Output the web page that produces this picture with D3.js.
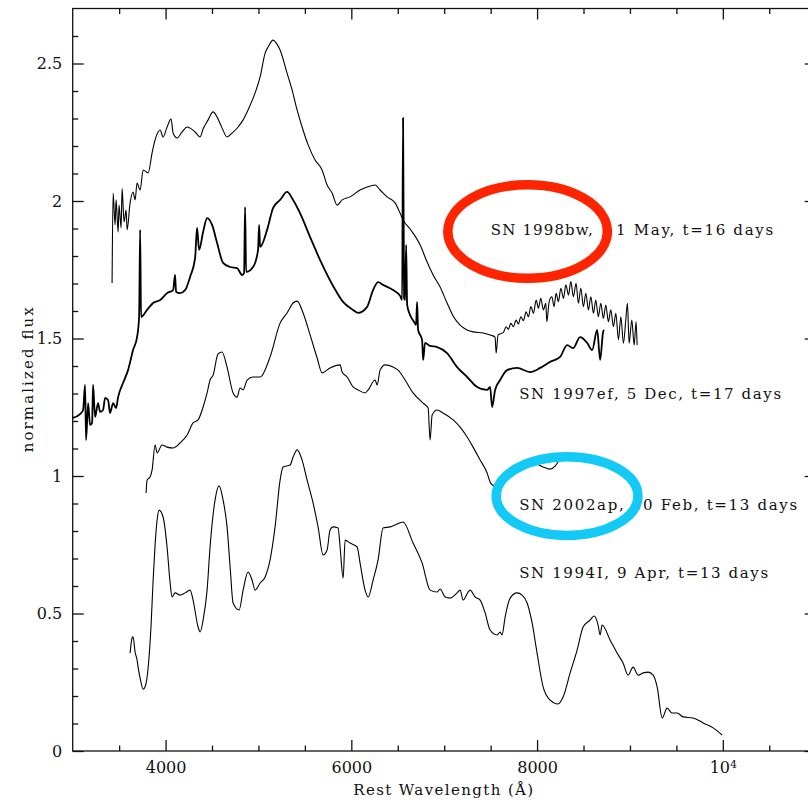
<!DOCTYPE html>
<html>
<head>
<meta charset="utf-8">
<script src="https://cdn.jsdelivr.net/npm/d3@7"></script>
<style>
  body { margin: 0; background: #fff; }
  svg { display: block; }
  text { font-family: "DejaVu Serif", serif; fill: #111; }
</style>
</head>
<body>
<svg id="chart" width="808" height="804"></svg>
<script>
// spectra, [rest wavelength (A), normalized flux]
const sn1998bw = [
  [3424,1.702],[3435,2.029],[3456,1.913],[3467,2.004],[3489,1.887],[3499,1.985],[3521,1.902],[3532,2.045],
  [3553,1.924],[3575,1.967],[3586,1.895],[3618,1.993],[3650,2.033],[3672,2.004],[3693,2.065],[3726,2.040],
  [3758,2.113],[3812,2.102],[3855,2.175],[3887,2.222],[3941,2.258],[3973,2.233],[4016,2.269],[4059,2.298],
  [4081,2.247],[4124,2.229],[4178,2.251],[4232,2.269],[4264,2.265],[4318,2.251],[4372,2.233],[4404,2.262],
  [4458,2.295],[4512,2.324],[4555,2.305],[4609,2.265],[4662,2.233],[4716,2.247],[4781,2.269],[4835,2.295],
  [4888,2.331],[4964,2.393],[5018,2.451],[5072,2.538],[5104,2.560],[5158,2.585],[5190,2.575],[5233,2.549],
  [5308,2.465],[5362,2.404],[5416,2.331],[5470,2.269],[5535,2.204],[5610,2.149],[5685,2.113],[5739,2.058],
  [5793,2.029],[5847,1.985],[5901,2.004],[5987,2.015],[6094,2.040],[6170,2.051],[6256,2.058],[6310,2.040],
  [6385,2.015],[6471,1.993],[6525,1.956],[6557,1.931],[6633,1.898],[6741,1.840],[6816,1.778],[6881,1.731],
  [6956,1.687],[7031,1.629],[7096,1.582],[7171,1.549],[7247,1.531],[7311,1.524],[7419,1.520],[7494,1.513],
  [7548,1.505],[7559,1.447],[7580,1.513],[7637,1.522],[7667,1.543],[7691,1.533],[7717,1.555],[7745,1.543],
  [7774,1.567],[7799,1.553],[7825,1.579],[7853,1.565],[7882,1.597],[7907,1.579],[7933,1.616],[7961,1.592],
  [7990,1.640],[8014,1.610],[8040,1.646],[8068,1.604],[8094,1.628],[8105,1.561],[8130,1.634],[8159,1.652],
  [8183,1.616],[8205,1.664],[8230,1.634],[8256,1.683],[8284,1.646],[8310,1.695],[8338,1.658],[8363,1.707],
  [8391,1.652],[8420,1.701],[8445,1.628],[8471,1.683],[8499,1.616],[8525,1.664],[8553,1.604],[8579,1.652],
  [8607,1.592],[8632,1.640],[8660,1.579],[8686,1.628],[8714,1.573],[8740,1.622],[8768,1.561],[8794,1.604],
  [8822,1.543],[8848,1.592],[8876,1.495],[8902,1.579],[8930,1.483],[8955,1.567],[8973,1.628],[8991,1.483],
  [9020,1.567],[9045,1.476],[9066,1.561],[9077,1.476]
];

const sn1997ef = [
  [3000,1.211],[3079,1.225],[3112,1.240],[3133,1.331],[3144,1.131],[3166,1.265],[3187,1.185],[3209,1.193],
  [3219,1.331],[3241,1.215],[3273,1.265],[3295,1.233],[3327,1.240],[3349,1.284],[3381,1.276],[3402,1.229],
  [3435,1.265],[3467,1.247],[3489,1.287],[3542,1.338],[3596,1.385],[3650,1.458],[3693,1.505],[3715,1.578],
  [3726,1.895],[3736,1.578],[3801,1.604],[3865,1.629],[3941,1.640],[4016,1.665],[4081,1.676],[4102,1.731],
  [4113,1.669],[4156,1.665],[4210,1.676],[4264,1.724],[4318,1.793],[4339,1.902],[4361,1.822],[4404,1.887],
  [4447,1.938],[4501,1.913],[4555,1.847],[4619,1.775],[4695,1.760],[4770,1.756],[4824,1.731],[4845,1.738],
  [4856,1.978],[4867,1.742],[4942,1.760],[4996,1.822],[5007,1.913],[5018,1.833],[5093,1.895],[5158,1.975],
  [5233,2.004],[5308,2.033],[5373,2.004],[5448,1.956],[5556,1.869],[5664,1.785],[5804,1.691],[5911,1.633],
  [6019,1.604],[6073,1.593],[6170,1.615],[6234,1.676],[6288,1.705],[6342,1.695],[6450,1.676],[6525,1.655],
  [6547,1.640],[6557,2.302],[6568,1.647],[6579,1.640],[6590,1.840],[6601,1.622],[6633,1.585],[6676,1.560],
  [6697,1.549],[6708,1.633],[6719,1.531],[6762,1.495],[6773,1.422],[6794,1.484],[6848,1.473],[6924,1.469],
  [7031,1.447],[7139,1.396],[7247,1.360],[7354,1.324],[7462,1.313],[7494,1.324],[7516,1.251],[7548,1.313],
  [7602,1.349],[7677,1.385],[7785,1.393],[7925,1.378],[8033,1.393],[8140,1.415],[8248,1.433],[8323,1.476],
  [8388,1.465],[8463,1.505],[8539,1.484],[8593,1.458],[8647,1.531],[8679,1.422],[8711,1.524],[8722,1.531]
];

const sn2002ap = [
  [3790,0.938],[3801,0.985],[3833,0.996],[3855,1.022],[3887,1.113],[3909,1.084],[3962,1.113],[4016,1.105],
  [4081,1.102],[4156,1.120],[4232,1.149],[4296,1.193],[4350,1.204],[4404,1.251],[4447,1.302],[4479,1.349],
  [4512,1.367],[4565,1.444],[4608,1.451],[4662,1.396],[4727,1.302],[4770,1.287],[4802,1.320],[4835,1.313],
  [4878,1.349],[4942,1.360],[5018,1.360],[5125,1.433],[5233,1.556],[5308,1.593],[5373,1.629],[5416,1.636],
  [5481,1.593],[5556,1.513],[5632,1.429],[5685,1.375],[5771,1.393],[5879,1.404],[5901,1.378],[5955,1.360],
  [6019,1.324],[6073,1.313],[6148,1.302],[6181,1.313],[6256,1.349],[6278,1.331],[6310,1.385],[6364,1.404],
  [6450,1.396],[6504,1.385],[6579,1.349],[6665,1.302],[6773,1.265],[6827,1.247],[6848,1.131],[6870,1.222],
  [6924,1.240],[6988,1.229],[7096,1.204],[7171,1.178],[7247,1.142],[7311,1.105],[7387,1.058],[7462,1.011],
  [7494,0.978],[7548,0.956],[7580,0.913],[7591,0.858],[7602,0.895]
];
// red end of 2002ap, after the gap
const sn2002apRed = [[7979,1.047],[8065,1.033],[8140,1.025],[8194,1.036],[8226,1.051]];

const sn1994I = [
  [3618,0.356],[3639,0.411],[3650,0.415],[3672,0.360],[3693,0.331],[3704,0.305],[3726,0.265],[3758,0.225],
  [3779,0.233],[3812,0.302],[3844,0.458],[3866,0.622],[3887,0.749],[3909,0.840],[3930,0.876],[3973,0.851],
  [4016,0.742],[4049,0.611],[4070,0.560],[4102,0.575],[4156,0.567],[4210,0.575],[4264,0.585],[4296,0.549],
  [4350,0.451],[4372,0.433],[4404,0.476],[4447,0.585],[4479,0.742],[4533,0.913],[4576,0.964],[4619,0.913],
  [4662,0.815],[4695,0.669],[4727,0.538],[4792,0.513],[4835,0.585],[4888,0.651],[4931,0.622],[4964,0.585],
  [5018,0.611],[5072,0.633],[5125,0.695],[5179,0.815],[5233,0.985],[5265,1.033],[5341,1.040],[5373,1.069],
  [5416,1.095],[5470,1.058],[5524,0.985],[5588,0.902],[5642,0.815],[5696,0.713],[5739,0.731],[5771,0.804],
  [5804,0.815],[5858,0.811],[5879,0.742],[5912,0.629],[5933,0.767],[5987,0.756],[6062,0.742],[6094,0.684],
  [6148,0.585],[6181,0.560],[6235,0.622],[6288,0.695],[6342,0.811],[6418,0.815],[6471,0.822],[6557,0.833],
  [6665,0.756],[6762,0.684],[6848,0.585],[6924,0.578],[6956,0.589],[7010,0.560],[7064,0.556],[7139,0.575],
  [7171,0.585],[7204,0.549],[7257,0.578],[7279,0.585],[7333,0.560],[7387,0.549],[7441,0.502],[7494,0.440],
  [7570,0.422],[7602,0.433],[7623,0.422],[7656,0.487],[7710,0.556],[7785,0.575],[7839,0.567],[7893,0.538],
  [7947,0.465],[8000,0.356],[8065,0.233],[8140,0.185],[8226,0.171],[8280,0.196],[8356,0.284],[8431,0.367],
  [8496,0.451],[8571,0.476],[8614,0.491],[8657,0.458],[8679,0.422],[8700,0.458],[8786,0.404],[8862,0.356],
  [8926,0.320],[8980,0.276],[9034,0.305],[9088,0.276],[9142,0.284],[9196,0.287],[9250,0.276],[9293,0.233],
  [9347,0.120],[9400,0.156],[9454,0.138],[9508,0.138],[9573,0.124],[9680,0.120],[9788,0.102],[9896,0.084],
  [9993,0.058]
];

// tick values
const xMajor = [4000, 6000, 8000, 10000];
const xMinor = [3500, 4500, 5000, 5500, 6500, 7000, 7500, 8500, 9000, 9500, 10500];
const yMajor = [0, 0.5, 1, 1.5, 2, 2.5];
const yMinor = [0.1,0.2,0.3,0.4,0.6,0.7,0.8,0.9,1.1,1.2,1.3,1.4,1.6,1.7,1.8,1.9,2.1,2.2,2.3,2.4,2.6];

// annotations: text and where it sits (wavelength, flux of baseline)
const labelText = ["SN 1998bw,", "1 May, t=16 days", "SN 1997ef, 5 Dec, t=17 days",
                   "SN 2002ap, 10 Feb, t=13 days", "SN 1994I, 9 Apr, t=13 days"];
const labelAt = [[7502, 1.876], [8851, 1.876], [7807, 1.280], [7807, 0.876], [7807, 0.628]];
const labelWidth = [102, 157, 262, 278, 249];

// highlight rings: centre (wavelength, flux), half-width (A), half-height (flux)
const rings = [
  { c: [7898, 1.889], rw: 859, rh: 0.170, color: "#ff2400" },
  { c: [8323, 0.927], rw: 763, rh: 0.143, color: "#12caf5" }
];

const svg = d3.select("#chart");
const x = d3.scaleLinear().domain([3000, 11000]).range([72.7, 815.7]);
const y = d3.scaleLinear().domain([0, 2.7]).range([751, 8.5]);

const [x0, x1] = x.range();
const [yb, yt] = y.range();

// frame
svg.append("rect")
  .attr("x", x0).attr("y", yt)
  .attr("width", x1 - x0).attr("height", yb - yt)
  .attr("fill", "none").attr("stroke", "#111").attr("stroke-width", 1.3);

const tickStyle = sel => {
  sel.select(".domain").remove();
  sel.selectAll(".tick line").attr("stroke", "#111").attr("stroke-width", 1.3);
  sel.selectAll(".tick text").attr("font-size", 16).attr("fill", "#111")
    .attr("font-family", "DejaVu Serif, serif");
};

// bottom
svg.append("g").attr("transform", `translate(0,${yb})`)
  .call(d3.axisBottom(x).tickValues(xMajor).tickSizeInner(-11).tickSizeOuter(0).tickPadding(11)
    .tickFormat(d => d === 10000 ? "10" : d))
  .call(tickStyle)
  .call(g => g.selectAll(".tick text").filter(d => d === 10000)
    .append("tspan").attr("dy", "-0.5em").attr("font-size", 11).text("4"));
svg.append("g").attr("transform", `translate(0,${yb})`)
  .call(d3.axisBottom(x).tickValues(xMinor).tickSizeInner(-5.5).tickSizeOuter(0).tickFormat(""))
  .call(tickStyle);
// top
svg.append("g").attr("transform", `translate(0,${yt})`)
  .call(d3.axisTop(x).tickValues(xMajor).tickSizeInner(-11).tickSizeOuter(0).tickFormat(""))
  .call(tickStyle);
svg.append("g").attr("transform", `translate(0,${yt})`)
  .call(d3.axisTop(x).tickValues(xMinor).tickSizeInner(-5.5).tickSizeOuter(0).tickFormat(""))
  .call(tickStyle);
// left
svg.append("g").attr("transform", `translate(${x0},0)`)
  .call(d3.axisLeft(y).tickValues(yMajor).tickSizeInner(-11).tickSizeOuter(0).tickPadding(10.5)
    .tickFormat(d => String(d)))
  .call(tickStyle);
svg.append("g").attr("transform", `translate(${x0},0)`)
  .call(d3.axisLeft(y).tickValues(yMinor).tickSizeInner(-5.5).tickSizeOuter(0).tickFormat(""))
  .call(tickStyle);
// right
svg.append("g").attr("transform", `translate(${x1},0)`)
  .call(d3.axisRight(y).tickValues(yMajor).tickSizeInner(-11).tickSizeOuter(0).tickFormat(""))
  .call(tickStyle);
svg.append("g").attr("transform", `translate(${x1},0)`)
  .call(d3.axisRight(y).tickValues(yMinor).tickSizeInner(-5.5).tickSizeOuter(0).tickFormat(""))
  .call(tickStyle);

// axis titles
svg.append("text")
  .attr("x", (x0 + x1) / 2 - 1).attr("y", 795)
  .attr("text-anchor", "middle").attr("font-size", 15)
  .attr("textLength", 180).attr("lengthAdjust", "spacing")
  .text("Rest Wavelength (Å)");

svg.append("text")
  .attr("transform", `translate(33,${(yt + yb) / 2}) rotate(-90)`)
  .attr("text-anchor", "middle").attr("font-size", 15)
  .attr("textLength", 145).attr("lengthAdjust", "spacing")
  .text("normalized flux");

// spectra
const line = d3.line().x(d => x(d[0])).y(d => y(d[1])).curve(d3.curveMonotoneX);
const plot = svg.append("g").attr("fill", "none").attr("stroke", "#000")
  .attr("stroke-linejoin", "round");

[sn1998bw, sn2002ap, sn2002apRed, sn1994I].forEach(s =>
  plot.append("path").datum(s).attr("d", line).attr("stroke-width", 1.1));
plot.append("path").datum(sn1997ef).attr("d", line).attr("stroke-width", 1.8);

// labels
svg.append("g").selectAll("text")
  .data(labelText)
  .join("text")
    .attr("x", (d, i) => x(labelAt[i][0]))
    .attr("y", (d, i) => y(labelAt[i][1]))
    .attr("font-size", 15)
    .attr("textLength", (d, i) => labelWidth[i])
    .attr("lengthAdjust", "spacing")
    .text(d => d);

// rings on top
svg.append("g").selectAll("ellipse")
  .data(rings)
  .join("ellipse")
    .attr("cx", d => x(d.c[0]))
    .attr("cy", d => y(d.c[1]))
    .attr("rx", d => x(d.c[0] + d.rw) - x(d.c[0]))
    .attr("ry", d => y(d.c[1] - d.rh) - y(d.c[1]))
    .attr("fill", "none")
    .attr("stroke", d => d.color)
    .attr("stroke-width", 9.5);
</script>
</body>
</html>
